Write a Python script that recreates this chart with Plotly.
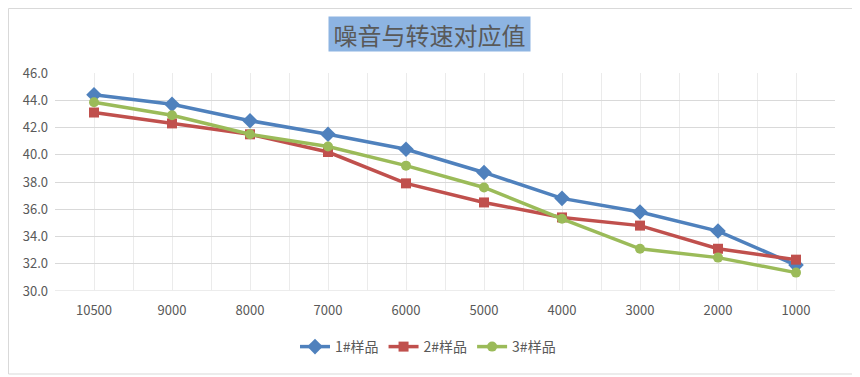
import plotly.graph_objects as go

categories = ["10500", "9000", "8000", "7000", "6000", "5000", "4000", "3000", "2000", "1000"]
series_names = ["1#样品", "2#样品", "3#样品"]
s1 = [44.4, 43.7, 42.5, 41.5, 40.4, 38.7, 36.8, 35.8, 34.4, 31.9]
s2 = [43.1, 42.3, 41.5, 40.2, 37.9, 36.5, 35.4, 34.8, 33.1, 32.3]
s3 = [43.85, 42.9, 41.5, 40.6, 39.2, 37.6, 35.3, 33.1, 32.45, 31.35]
title_text = "噪音与转速对应值"

colors = ["#4F81BD", "#C0504D", "#9BBB59"]
symbols = ["diamond", "square", "circle"]
sizes = [12, 10, 10]

FONT = "Noto Sans CJK SC"
xidx = list(range(len(categories)))

# page body has an 8px margin; figure is sized/positioned to compensate
W, H = 852, 369
L, R, T, B = 47, 25, 65, 86
pw, ph = W - L - R, H - T - B


def px(xp):
    return (xp - L) / pw


def py(yp):
    return (H - B - yp) / ph


fig = go.Figure()
for name, vals, c, sym, sz in zip(series_names, [s1, s2, s3], colors, symbols, sizes):
    fig.add_trace(go.Scatter(
        x=xidx, y=vals, name=name, mode="lines+markers",
        line=dict(color=c, width=3.5),
        marker=dict(symbol=sym, size=sz, color=c),
    ))

fig.update_layout(
    width=W, height=H,
    margin=dict(l=L, r=R, t=T, b=B, pad=0),
    paper_bgcolor="white", plot_bgcolor="white",
    font=dict(family=FONT, color="#595959", size=13),
    showlegend=True,
    legend=dict(orientation="h", x=px(420), xanchor="center", y=py(339), yanchor="middle",
                font=dict(size=14, color="#595959"), itemwidth=30, traceorder="normal"),
    xaxis=dict(
        range=[-0.5, len(categories) - 0.5],
        tickmode="array", tickvals=xidx, ticktext=categories,
        showgrid=True, gridcolor="#EBEBEB", gridwidth=1,
        minor=dict(tickmode="linear", tick0=-0.5, dtick=1, showgrid=True, gridcolor="#EBEBEB", gridwidth=1),
        zeroline=False, showline=False, ticks="",
        tickfont=dict(size=13, color="#595959"),
        ticklabelstandoff=10,
    ),
    yaxis=dict(
        range=[30, 46], dtick=2, tick0=30, tickformat=".1f",
        showgrid=True, gridcolor="#D9D9D9", gridwidth=1,
        zeroline=False, showline=False, ticks="",
        tickfont=dict(size=13, color="#595959"),
        ticklabelstandoff=6,
    ),
    annotations=[dict(
        text=title_text, xref="paper", yref="paper", x=px(421), y=py(26),
        xanchor="center", yanchor="middle", showarrow=False,
        font=dict(size=24, color="#595959", family=FONT),
        bgcolor="#8DB4E2", borderpad=1, width=199, height=32,
    )],
    shapes=[
        dict(type="rect", xref="paper", yref="paper", x0=px(0.5), x1=px(848), y0=py(366), y1=py(0.5),
             line=dict(color="#D9D9D9", width=1), fillcolor="rgba(0,0,0,0)", layer="below"),
        dict(type="line", xref="paper", yref="y", x0=0, x1=1, y0=30, y1=30,
             line=dict(color="#D9D9D9", width=1), layer="below"),
    ],
)

fig.write_html("out.html")
